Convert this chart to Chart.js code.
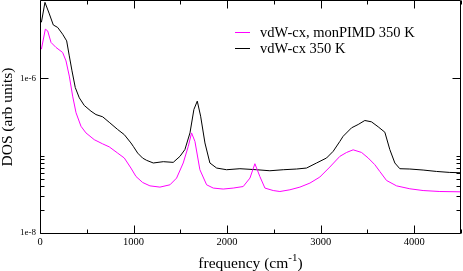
<!DOCTYPE html>
<html>
<head>
<meta charset="utf-8">
<script src="https://cdn.jsdelivr.net/npm/chart.js@4/dist/chart.umd.min.js"></script>
<style>
html,body{margin:0;padding:0;background:#fff;}
canvas{display:block;}
</style>
</head>
<body>
<canvas id="c" width="463" height="271"></canvas>
<script>
// ---- data ----
const seriesLabels = ['vdW-cx, monPIMD 350 K', 'vdW-cx 350 K'];
const seriesColors = ['#ff00ff', '#000000'];

const freqMon = [15, 57, 82, 118, 171, 242, 278, 313, 349, 385, 438, 491, 580, 670, 740, 830, 901, 972, 1026, 1097, 1175, 1282, 1389, 1460, 1531, 1585, 1620, 1656, 1709, 1781, 1852, 1958, 2065, 2172, 2244, 2297, 2350, 2404, 2493, 2564, 2671, 2778, 2885, 2991, 3098, 3205, 3277, 3347, 3437, 3508, 3579, 3632, 3704, 3811, 3953, 4095, 4274, 4490];
const dosMon = [2.38e-6, 4.32e-6, 4.11e-6, 2.91e-6, 2.51e-6, 2.16e-6, 1.68e-6, 1.07e-6, 5.89e-7, 3.59e-7, 2.4e-7, 1.97e-7, 1.61e-7, 1.42e-7, 1.3e-7, 1.08e-7, 9.33e-8, 6.92e-8, 5.38e-8, 4.5e-8, 4.07e-8, 3.92e-8, 4.2e-8, 5.13e-8, 8.04e-8, 1.32e-7, 1.97e-7, 1.53e-7, 6.58e-8, 4.2e-8, 3.81e-8, 3.7e-8, 3.81e-8, 3.99e-8, 5.13e-8, 7.87e-8, 5.38e-8, 3.81e-8, 3.54e-8, 3.44e-8, 3.62e-8, 3.92e-8, 4.42e-8, 5.29e-8, 7.13e-8, 9.8e-8, 1.1e-7, 1.19e-7, 1.1e-7, 9.33e-8, 7.64e-8, 6.25e-8, 4.78e-8, 4.07e-8, 3.73e-8, 3.54e-8, 3.44e-8, 3.41e-8];

const freqCl = [15, 53, 100, 142, 189, 242, 285, 313, 342, 377, 420, 473, 545, 598, 670, 740, 830, 901, 972, 997, 1044, 1097, 1140, 1211, 1318, 1424, 1496, 1549, 1603, 1645, 1681, 1717, 1763, 1816, 1888, 1994, 2137, 2315, 2457, 2600, 2742, 2849, 2956, 3063, 3134, 3205, 3240, 3330, 3401, 3472, 3543, 3615, 3686, 3739, 3793, 3846, 3953, 4095, 4238, 4380, 4490];
const dosCl = [5.3e-6, 9.6e-6, 6.8e-6, 4.9e-6, 4.55e-6, 3.72e-6, 3.05e-6, 1.95e-6, 1.25e-6, 7.6e-7, 5.6e-7, 4.46e-7, 3.76e-7, 3.4e-7, 3.18e-7, 2.7e-7, 2.18e-7, 1.87e-7, 1.46e-7, 1.32e-7, 1.08e-7, 9.3e-8, 8.7e-8, 8.04e-8, 8.36e-8, 8.19e-8, 9.8e-8, 1.2e-7, 1.97e-7, 3.96e-7, 5.07e-7, 3.24e-7, 1.46e-7, 8.04e-8, 6.92e-8, 6.58e-8, 6.78e-8, 6.58e-8, 6.38e-8, 6.58e-8, 6.72e-8, 6.92e-8, 8.04e-8, 9.33e-8, 1.14e-7, 1.53e-7, 1.78e-7, 2.29e-7, 2.53e-7, 2.85e-7, 2.74e-7, 2.36e-7, 2.01e-7, 1.2e-7, 8.04e-8, 6.78e-8, 6.72e-8, 6.52e-8, 6.25e-8, 6.07e-8, 6.02e-8];

const xMajorTicks = [0, 1000, 2000, 3000, 4000];
const xMinorTicks = [500, 1500, 2500, 3500, 4500];
const xTickLabels = ['0', '1000', '2000', '3000', '4000'];
const yMajorTicks = [1e-8, 1e-6];
const yTickLabels = ['1e-8', '1e-6'];
const yMinorTicks = [2e-8, 3e-8, 4e-8, 5e-8, 6e-8, 7e-8, 8e-8, 9e-8, 1e-7];
const xTitle = 'frequency (cm';
const xTitleSup = '-1';
const yTitle = 'DOS (arb units)';

const SERIF = '"Liberation Serif", "Times New Roman", serif';

function pts(xs, ys) { return xs.map((x, i) => ({x: x, y: ys[i]})); }

const decor = {
  id: 'decor',
  afterDraw(chart) {
    const ctx = chart.ctx;
    const a = chart.chartArea;
    const xs = chart.scales.x, ys = chart.scales.y;
    ctx.save();
    ctx.strokeStyle = '#000';
    ctx.lineWidth = 1;
    // frame
    const L = Math.round(a.left) + 0.5, R = Math.round(a.right) - 0.5;
    const T = Math.round(a.top) - 0.5, B = Math.round(a.bottom) + 0.5;
    ctx.beginPath();
    ctx.rect(L, T, R - L, B - T);
    ctx.stroke();
    // x ticks (bottom and top, inward)
    ctx.beginPath();
    const xt = (vals, len) => vals.forEach(v => {
      const p = Math.round(xs.getPixelForValue(v)) + 0.5;
      ctx.moveTo(p, B); ctx.lineTo(p, B - len);
      ctx.moveTo(p, T); ctx.lineTo(p, T + len);
    });
    xt(xMajorTicks, 8); xt(xMinorTicks, 4);
    const yt = (vals, len) => vals.forEach(v => {
      const p = Math.round(ys.getPixelForValue(v)) + 0.5;
      ctx.moveTo(L, p); ctx.lineTo(L + len, p);
      ctx.moveTo(R, p); ctx.lineTo(R - len, p);
    });
    yt(yMajorTicks, 8); yt(yMinorTicks, 4);
    ctx.stroke();

    // axis titles
    ctx.fillStyle = '#000';
    const mainFont = '15.5px ' + SERIF;
    const supFont = '11px ' + SERIF;
    ctx.textBaseline = 'alphabetic';
    ctx.font = mainFont;
    const w1 = ctx.measureText(xTitle).width;
    ctx.font = supFont;
    const w2 = ctx.measureText(xTitleSup).width;
    ctx.font = mainFont;
    const w3 = ctx.measureText(')').width;
    const cx = (a.left + a.right) / 2;
    const x0 = cx - (w1 + w2 + w3) / 2;
    const by = 267.5;
    ctx.textAlign = 'left';
    ctx.fillText(xTitle, x0, by);
    ctx.font = supFont;
    ctx.fillText(xTitleSup, x0 + w1, by - 6.5);
    ctx.font = mainFont;
    ctx.fillText(')', x0 + w1 + w2, by);

    ctx.save();
    ctx.translate(12, (a.top + a.bottom) / 2);
    ctx.rotate(-Math.PI / 2);
    ctx.textAlign = 'center';
    ctx.fillText(yTitle, 0, 0);
    ctx.restore();

    // legend
    ctx.font = '14.5px ' + SERIF;
    ctx.textAlign = 'left';
    const legY = [32, 48];
    chart.data.datasets.forEach((ds, i) => {
      const y = legY[i] + 0.5;
      ctx.strokeStyle = ds.borderColor;
      ctx.beginPath();
      ctx.moveTo(235, y); ctx.lineTo(250, y);
      ctx.stroke();
      ctx.fillStyle = '#000';
      ctx.fillText(ds.label, 260, legY[i] + 4.8);
    });
    ctx.restore();
  }
};

function noPad(s) { s.paddingTop = 0; s.paddingBottom = 0; s.paddingLeft = 0; s.paddingRight = 0; }

new Chart(document.getElementById('c'), {
  type: 'line',
  data: {
    datasets: [
      {label: seriesLabels[0], data: pts(freqMon, dosMon), borderColor: seriesColors[0], borderWidth: 1, pointRadius: 0, tension: 0, fill: false},
      {label: seriesLabels[1], data: pts(freqCl, dosCl), borderColor: seriesColors[1], borderWidth: 1, pointRadius: 0, tension: 0, fill: false}
    ]
  },
  options: {
    responsive: false,
    animation: false,
    events: [],
    layout: {padding: {top: 1, right: 2, left: 0, bottom: 0}},
    plugins: {legend: {display: false}, tooltip: {enabled: false}},
    scales: {
      x: {
        type: 'linear', min: 0, max: 4500,
        grid: {display: false, drawTicks: false},
        border: {display: false},
        afterBuildTicks: s => { s.ticks = xMajorTicks.map(v => ({value: v})); },
        afterFit: s => { s.height = 38; noPad(s); },
        ticks: {
          padding: 3, maxRotation: 0, autoSkip: false, color: '#000',
          font: {family: SERIF, size: 10.5},
          callback: v => { const i = xMajorTicks.indexOf(v); return i >= 0 ? xTickLabels[i] : ''; }
        }
      },
      y: {
        type: 'logarithmic', min: 1e-8, max: 1e-5,
        grid: {display: false, drawTicks: false},
        border: {display: false},
        afterBuildTicks: s => { s.ticks = yMajorTicks.map(v => ({value: v})); },
        afterFit: s => { s.width = 40; noPad(s); },
        ticks: {
          padding: 4, autoSkip: false, color: '#000',
          font: {family: SERIF, size: 9},
          callback: v => { const i = yMajorTicks.indexOf(v); return i >= 0 ? yTickLabels[i] : ''; }
        }
      }
    }
  },
  plugins: [decor]
});
</script>
</body>
</html>
